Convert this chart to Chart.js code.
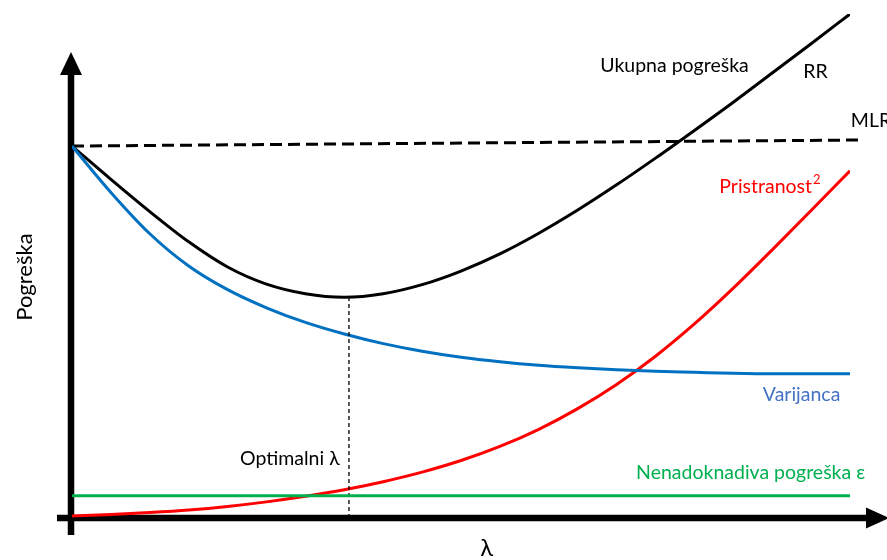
<!DOCTYPE html>
<html>
<head>
<meta charset="utf-8">
<script src="https://cdn.jsdelivr.net/npm/chart.js@4"></script>
<style>
  html, body { margin: 0; padding: 0; background: #fff; }
</style>
</head>
<body>
<canvas id="myChart" width="887" height="560"></canvas>
<script>
// lambda (x) i pogreška (y) u proizvoljnim jedinicama 0..100
const lambdas     = [0, 5, 10, 15, 20, 25, 30, 35, 40, 45, 50, 55, 60, 65, 70, 75, 80, 85, 90, 95, 100];
const ukupna      = [73.8, 67.2, 60.8, 54.8, 49.8, 46.4, 44.5, 43.8, 44.5, 46.3, 49.0, 52.4, 56.5, 61.1, 66.1, 71.4, 76.9, 82.5, 88.3, 94.1, 100];
const varijanca   = [73.8, 64.6, 56.4, 50.0, 45.3, 41.7, 38.8, 36.5, 34.6, 33.1, 31.9, 31.0, 30.3, 29.8, 29.4, 29.1, 28.9, 28.7, 28.6, 28.6, 28.6];
const pristranost = [0.4, 0.7, 1.1, 1.6, 2.3, 3.2, 4.3, 5.6, 7.2, 9.1, 11.4, 14.2, 17.6, 21.7, 26.5, 32.1, 38.5, 45.6, 53.2, 61.0, 68.9];
const epsilon = 4.4;               // nenadoknadiva pogreška
const mlrLambda = [0, 101.3];
const mlrError  = [73.8, 75.0];
const optLambda = 35.6;
const minError  = 43.8;

const pts = arr => lambdas.map((x, i) => ({ x: x, y: arr[i] }));

// tekstovi, sidreni u koordinatama grafa
const notes = [
  { text: 'Ukupna pogreška', x: 67.9, y: 89.7, color: '#000000' },
  { text: 'RR', x: 94.0, y: 88.5, color: '#000000' },
  { text: 'MLR', x: 100.1, y: 78.8, color: '#000000' },
  { text: 'Pristranost', sup: '2', x: 83.2, y: 65.7, color: '#FF0000' },
  { text: 'Varijanca', x: 88.8, y: 24.4, color: '#4472C4' },
  { text: 'Nenadoknadiva pogreška ε', x: 72.5, y: 8.9, color: '#00B050' },
  { text: 'Optimalni λ', x: 21.6, y: 11.7, color: '#000000' }
];

const FONT = 'Lato, "Open Sans", sans-serif';

const axesPlugin = {
  id: 'axesPlugin',
  beforeDatasetsDraw(chart) {
    const { ctx, scales: { x, y } } = chart;
    const ox = x.getPixelForValue(0) - 1;
    const oy = y.getPixelForValue(0);
    ctx.save();
    ctx.fillStyle = '#000';
    // y os sa strelicom
    ctx.fillRect(ox - 3.25, oy - 448, 6.5, 465);
    ctx.beginPath();
    ctx.moveTo(ox, oy - 466);
    ctx.lineTo(ox - 11, oy - 443);
    ctx.lineTo(ox + 11, oy - 443);
    ctx.closePath();
    ctx.fill();
    // x os sa strelicom
    ctx.fillRect(ox - 14, oy - 3.25, 812, 6.5);
    ctx.beginPath();
    ctx.moveTo(ox + 818, oy);
    ctx.lineTo(ox + 795, oy - 10.5);
    ctx.lineTo(ox + 795, oy + 10.5);
    ctx.closePath();
    ctx.fill();
    ctx.restore();
  },
  afterDatasetsDraw(chart) {
    const { ctx, scales: { x, y } } = chart;
    ctx.save();
    ctx.textBaseline = 'middle';
    ctx.textAlign = 'left';
    notes.forEach(n => {
      const px = x.getPixelForValue(n.x), py = y.getPixelForValue(n.y);
      ctx.font = '19.5px ' + FONT;
      ctx.fillStyle = n.color;
      ctx.fillText(n.text, px, py);
      if (n.sup) {
        const w = ctx.measureText(n.text).width;
        ctx.font = '13px ' + FONT;
        ctx.fillText(n.sup, px + w + 1, py - 7);
      }
    });
    // naslovi osi
    ctx.fillStyle = '#000';
    ctx.textAlign = 'center';
    ctx.font = '24px ' + FONT;
    ctx.fillText('λ', x.getPixelForValue(53.3), y.getPixelForValue(-6.0));
    ctx.translate(x.getPixelForValue(-6.1), y.getPixelForValue(47.8));
    ctx.rotate(-Math.PI / 2);
    ctx.font = '22px ' + FONT;
    ctx.fillText('Pogreška', 0, 0);
    ctx.restore();
  }
};

new Chart(document.getElementById('myChart'), {
  type: 'line',
  data: {
    datasets: [
      {
        label: 'Nenadoknadiva pogreška ε',
        data: [{ x: 0, y: epsilon }, { x: 100, y: epsilon }],
        borderColor: '#00B050',
        borderWidth: 3
      }, {
        label: 'Optimalni λ',
        data: [{ x: optLambda, y: 0 }, { x: optLambda, y: minError }],
        borderColor: '#000',
        borderWidth: 1.3,
        borderDash: [4, 3]
      }, {
        label: 'Varijanca',
        data: pts(varijanca),
        borderColor: '#0070C0',
        borderWidth: 3,
        cubicInterpolationMode: 'monotone'
      }, {
        label: 'Pristranost²',
        data: pts(pristranost),
        borderColor: '#FF0000',
        borderWidth: 3,
        cubicInterpolationMode: 'monotone'
      }, {
        label: 'MLR',
        data: mlrLambda.map((l, i) => ({ x: l, y: mlrError[i] })),
        borderColor: '#000',
        borderWidth: 3,
        borderDash: [12, 6],
        clip: false
      }, {
        label: 'Ukupna pogreška',
        data: pts(ukupna),
        borderColor: '#000',
        borderWidth: 3,
        cubicInterpolationMode: 'monotone'
      }
    ]
  },
  options: {
    responsive: false,
    animation: false,
    layout: { padding: { left: 72, right: 37, top: 14, bottom: 42 } },
    elements: { point: { radius: 0 } },
    scales: {
      x: { type: 'linear', min: 0, max: 100, display: false },
      y: { min: 0, max: 100, display: false }
    },
    plugins: {
      legend: { display: false },
      tooltip: { enabled: false }
    }
  },
  plugins: [axesPlugin]
});
</script>
</body>
</html>
